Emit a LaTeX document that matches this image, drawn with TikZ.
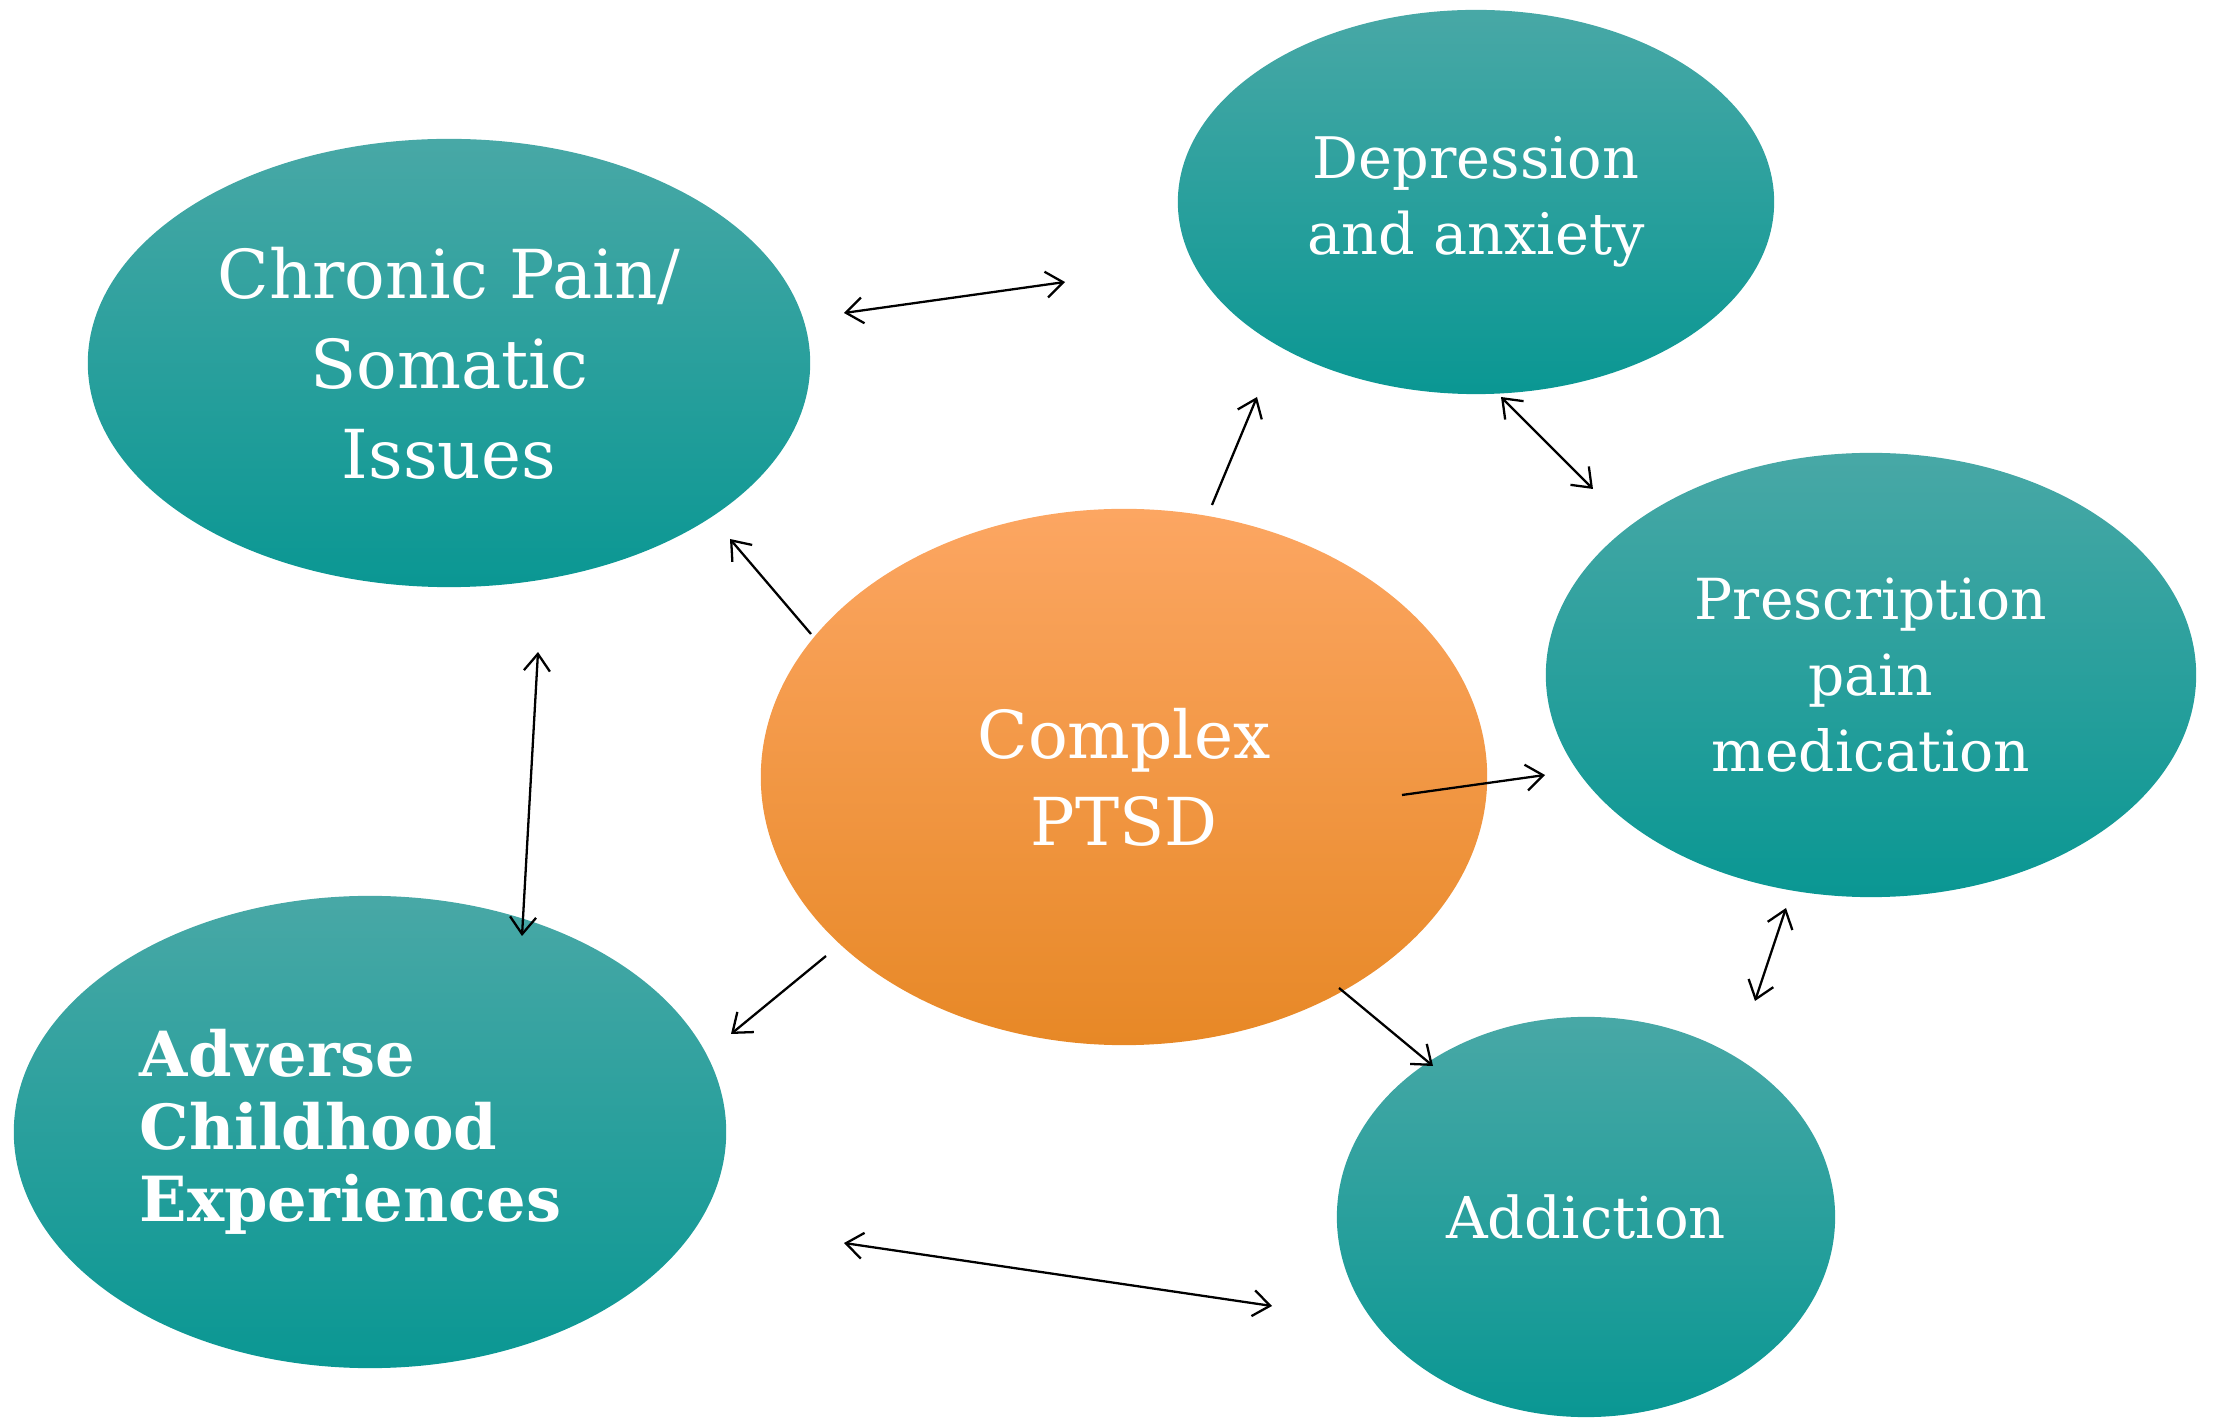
\documentclass[tikz,border=0pt]{standalone}
\usepackage{fontspec}
\setmainfont{DejaVu Serif}
\usepackage{tikz}
\usetikzlibrary{arrows.meta,shapes.geometric}
\definecolor{tealtop}{RGB}{72,168,166}
\definecolor{tealmid}{RGB}{24,164,160}
\definecolor{tealbot}{RGB}{10,151,147}
\definecolor{orangetop}{RGB}{252,166,98}
\definecolor{orangemid}{RGB}{250,155,62}
\definecolor{orangebot}{RGB}{231,136,38}

\tikzset{
  issue/.style={ellipse, inner sep=0pt, align=center, text=white,
    top color=tealtop, middle color=tealmid, bottom color=tealbot},
  core/.style={ellipse, inner sep=0pt, align=center, text=white,
    top color=orangetop, middle color=orangemid, bottom color=orangebot},
  link/.style={line width=0.65pt, -{Straight Barb[length=1.7mm,width=2.6mm]}},
  linkboth/.style={line width=0.65pt, {Straight Barb[length=1.7mm,width=2.6mm]}-{Straight Barb[length=1.7mm,width=2.6mm]}}
}

\begin{document}
\begin{tikzpicture}[x=0.01cm, y=-0.01cm]
  \useasboundingbox (0,0) rectangle (2214,1419);

  %% Ellipses
  \node[issue, minimum width=7.22cm, minimum height=4.48cm, font=\fontsize{19.2}{25.6}\selectfont] (pain) at (449,363) {Chronic Pain/\\Somatic\\Issues};
  \node[issue, minimum width=5.96cm, minimum height=3.84cm, font=\fontsize{16.3}{21.6}\selectfont] (dep) at (1476,202) {Depression\\and anxiety};
  \node[issue, minimum width=6.50cm, minimum height=4.44cm, font=\fontsize{16.1}{21.6}\selectfont] (rx) at (1871,675) {Prescription\\pain\\medication};
  \node[core, minimum width=7.26cm, minimum height=5.36cm, font=\fontsize{18.8}{24.8}\selectfont] (ptsd) at (1124,777) {Complex\\PTSD};
  \node[issue, minimum width=7.12cm, minimum height=4.72cm, text width=4.6cm, align=left, font=\fontsize{17.7}{20.7}\selectfont\bfseries] (ace) at (370,1132) {Adverse\\Childhood\\Experiences};
  \node[issue, minimum width=4.98cm, minimum height=4.00cm, font=\fontsize{16.4}{21.6}\selectfont] (add) at (1586,1217) {Addiction};

  %% Arrow ends
  \coordinate (painR) at (844,313);
  \coordinate (depL) at (1065,282);
  \coordinate (ptsdN) at (1212,505);
  \coordinate (depSW) at (1257,397);
  \coordinate (depSE) at (1501,397);
  \coordinate (rxNW) at (1593,489);
  \coordinate (ptsdNW) at (811,634);
  \coordinate (painSE) at (730,539);
  \coordinate (painS) at (538,652);
  \coordinate (aceN) at (522,936);
  \coordinate (ptsdE) at (1402,795);
  \coordinate (rxW) at (1545,775);
  \coordinate (ptsdSW) at (826,956);
  \coordinate (aceNE) at (731,1034);
  \coordinate (ptsdSE) at (1339,988);
  \coordinate (addNW) at (1433,1066);
  \coordinate (rxS) at (1786,908);
  \coordinate (addN) at (1755,1001);
  \coordinate (aceE) at (844,1243);
  \coordinate (addW) at (1272,1306);

  %% Connectors
  \draw[linkboth] (painR) -- (depL);
  \draw[link] (ptsdN) -- (depSW);
  \draw[linkboth] (depSE) -- (rxNW);
  \draw[link] (ptsdNW) -- (painSE);
  \draw[linkboth] (painS) -- (aceN);
  \draw[link] (ptsdE) -- (rxW);
  \draw[link] (ptsdSW) -- (aceNE);
  \draw[link] (ptsdSE) -- (addNW);
  \draw[linkboth] (rxS) -- (addN);
  \draw[linkboth] (aceE) -- (addW);
\end{tikzpicture}
\end{document}
